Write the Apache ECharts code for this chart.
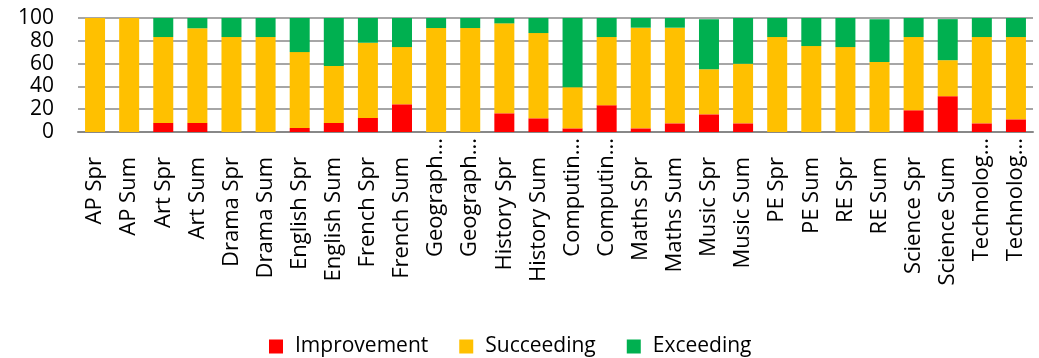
<!DOCTYPE html>
<html>
<head>
<meta charset="utf-8">
<script src="https://cdn.jsdelivr.net/npm/echarts@6/dist/echarts.min.js"></script>
<style>
  html, body {margin: 0; padding: 0; background: #fff;}
  #chart {width: 1039px; height: 358px;}
</style>
</head>
<body>
<div id="chart"></div>
<script>
// labels as they appear on the chart (long ones were cut by the original)
const categories = ['AP Spr', 'AP Sum', 'Art Spr', 'Art Sum', 'Drama Spr', 'Drama Sum',
  'English Spr', 'English Sum', 'French Spr', 'French Sum', 'Geograph...', 'Geograph...',
  'History Spr', 'History Sum', 'Computin...', 'Computin...', 'Maths Spr', 'Maths Sum',
  'Music Spr', 'Music Sum', 'PE Spr', 'PE Sum', 'RE Spr', 'RE Sum',
  'Science Spr', 'Science Sum', 'Technolog...', 'Technolog...'];

const improvement = [0, 0, 8, 8, 0, 0, 3.5, 8, 12.3, 24.3, 0, 0,
  16.4, 12, 3.2, 23.5, 3.2, 7.6, 15.5, 7.6, 0, 0, 0, 0, 19.1, 31.4, 7.6, 11.1];
const succeeding = [100, 100, 75.3, 83, 83.3, 83.3, 66.6, 49.8, 66, 50.2, 91.2, 91.2,
  78.9, 74.8, 36.1, 59.8, 88.3, 83.9, 39.6, 52.2, 83.3, 75.4, 74.5, 61.3, 64.2, 31.6, 75.7, 72.2];
const exceeding = [0, 0, 16.7, 9, 16.7, 16.7, 29.9, 42.2, 21.7, 25.5, 8.8, 8.8,
  4.7, 13.2, 60.7, 16.7, 8.5, 8.5, 43.7, 40.2, 16.7, 24.6, 25.5, 37.5, 16.7, 36, 16.7, 16.7];

const yTicks = {min: 0, max: 100, interval: 20};

const chart = echarts.init(document.getElementById('chart'));
const font = '"Open Sans", sans-serif';

function barSeries(name, data, color) {
  return {
    name: name,
    type: 'bar',
    stack: 'total',
    data: data,
    barWidth: 20,
    itemStyle: {color: color},
    emphasis: {disabled: true}
  };
}

chart.setOption({
  animation: false,
  textStyle: {fontFamily: font},
  grid: {left: 78, right: 6, top: 18, bottom: 226, containLabel: false},
  legend: {
    top: 331,
    left: 264,
    itemWidth: 14,
    itemHeight: 14,
    itemGap: 31,
    icon: 'rect',
    textStyle: {fontSize: 21, color: '#000', fontFamily: font, padding: [0, 0, 0, 7]},
    data: ['Improvement', 'Succeeding', 'Exceeding']
  },
  xAxis: {
    type: 'category',
    data: categories,
    axisTick: {show: false},
    axisLine: {lineStyle: {color: '#888', width: 2}},
    axisLabel: {
      rotate: 90,
      margin: 6,
      fontSize: 22,
      color: '#000',
      fontFamily: font,
      interval: 0,
      formatter(val) {
        // cut labels sit a bit closer to the axis, like in the original
        return val.endsWith('...') ? '{b|' + val + '}' : '{a|' + val + '}';
      },
      rich: {
        a: {fontSize: 22, color: '#000', fontFamily: font, padding: [0, 19, 0, 0]},
        b: {fontSize: 22, color: '#000', fontFamily: font}
      }
    }
  },
  yAxis: {
    type: 'value',
    min: yTicks.min,
    max: yTicks.max,
    interval: yTicks.interval,
    axisLine: {show: false},
    axisTick: {show: false},
    splitLine: {lineStyle: {color: '#888', width: 1.5}},
    axisLabel: {fontSize: 21, color: '#000', margin: 24, fontFamily: font}
  },
  series: [
    barSeries('Improvement', improvement, '#FF0000'),
    barSeries('Succeeding', succeeding, '#FFC000'),
    barSeries('Exceeding', exceeding, '#00B050')
  ]
});
</script>
</body>
</html>
